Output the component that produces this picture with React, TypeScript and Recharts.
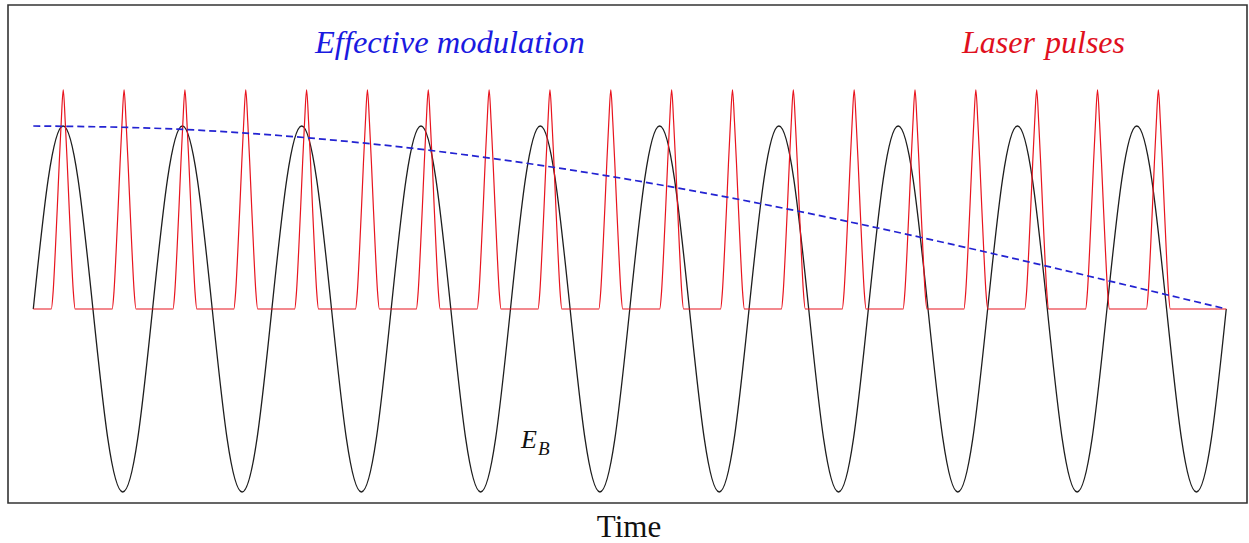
import React from "react";
import { LineChart, Line, XAxis, YAxis, ReferenceArea } from "recharts";

// Time axis in units of the E_B period (0 .. 10)
const X_DOMAIN: [number, number] = [-0.212, 10.174];
const Y_DOMAIN: [number, number] = [-1.06, 1.661];

const ebStep = 0.125;
const ebValues = [
  0, 0.71, 1, 0.71, 0, -0.71, -1, -0.71,
  0, 0.71, 1, 0.71, 0, -0.71, -1, -0.71,
  0, 0.71, 1, 0.71, 0, -0.71, -1, -0.71,
  0, 0.71, 1, 0.71, 0, -0.71, -1, -0.71,
  0, 0.71, 1, 0.71, 0, -0.71, -1, -0.71,
  0, 0.71, 1, 0.71, 0, -0.71, -1, -0.71,
  0, 0.71, 1, 0.71, 0, -0.71, -1, -0.71,
  0, 0.71, 1, 0.71, 0, -0.71, -1, -0.71,
  0, 0.71, 1, 0.71, 0, -0.71, -1, -0.71,
  0, 0.71, 1, 0.71, 0, -0.71, -1, -0.71,
  0,
];

// Laser pulse centres (time units)
const pulseCenters = [
  0.251, 0.761, 1.271, 1.781, 2.291, 2.801, 3.311, 3.821, 4.331, 4.841,
  5.351, 5.861, 6.371, 6.881, 7.391, 7.901, 8.411, 8.921, 9.431,
];
// Shape of one pulse: offsets from centre and heights
const pulseOffsets = [-0.1, -0.084, -0.067, -0.05, -0.034, -0.017, 0, 0.017, 0.034, 0.05, 0.067, 0.084, 0.1];
const pulseHeights = [0, 0.1, 0.31, 0.55, 0.79, 1.02, 1.197, 1.02, 0.79, 0.55, 0.31, 0.1, 0];
const pulseStart = 0;
const pulseEnd = 10;

// Effective modulation envelope
const modTimes = [0, 1, 2, 3, 4, 5, 6, 7, 8, 9, 10];
const modValues = [1, 0.988, 0.951, 0.891, 0.809, 0.707, 0.588, 0.454, 0.309, 0.156, 0];

const ebData = ebValues.map((v, i) => ({ t: i * ebStep, v }));
const pulseData: { t: number; v: number }[] = [{ t: pulseStart, v: 0 }];
pulseCenters.forEach((c) => {
  pulseOffsets.forEach((o, j) => pulseData.push({ t: c + o, v: pulseHeights[j] }));
});
pulseData.push({ t: pulseEnd, v: 0 });
const modData = modTimes.map((t, i) => ({ t, v: modValues[i] }));

const serif = '"Liberation Serif", "Times New Roman", serif';

export default function App() {
  return (
    <div style={{ position: "absolute", left: 0, top: 0, width: 1249, height: 543, background: "#fff" }}>
      <LineChart
        width={1249}
        height={543}
        margin={{ top: 5, right: 2, bottom: 40, left: 8 }}
      >
        <XAxis dataKey="t" type="number" domain={X_DOMAIN} allowDataOverflow hide />
        <YAxis type="number" domain={Y_DOMAIN} allowDataOverflow hide />
        <ReferenceArea
          x1={X_DOMAIN[0]}
          x2={X_DOMAIN[1]}
          y1={Y_DOMAIN[0]}
          y2={Y_DOMAIN[1]}
          fill="none"
          fillOpacity={0}
          stroke="#333"
          strokeWidth={1.6}
        />
        <Line
          data={ebData}
          dataKey="v"
          type="natural"
          stroke="#1e1e1e"
          strokeWidth={1.3}
          dot={false}
          activeDot={false}
          isAnimationActive={false}
        />
        <Line
          data={pulseData}
          dataKey="v"
          type="monotone"
          stroke="#e8141e"
          strokeWidth={1.2}
          dot={false}
          activeDot={false}
          isAnimationActive={false}
        />
        <Line
          data={modData}
          dataKey="v"
          type="natural"
          stroke="#2323d2"
          strokeWidth={1.7}
          strokeDasharray="7 4"
          dot={false}
          activeDot={false}
          isAnimationActive={false}
        />
      </LineChart>
      <svg
        width={1249}
        height={543}
        style={{ position: "absolute", left: 0, top: 0, pointerEvents: "none" }}
      >
        <text x={315} y={53} fontFamily={serif} fontStyle="italic" fontSize={32.5} fill="#1a1ae0">
          Effective modulation
        </text>
        <text x={962} y={53} fontFamily={serif} fontStyle="italic" fontSize={32} fill="#e0101e">
          Laser<tspan x={1045}>pulses</tspan>
        </text>
        <text x={521} y={448} fontFamily={serif} fontStyle="italic" fontSize={26} fill="#111">
          E
        </text>
        <text x={538} y={455} fontFamily={serif} fontStyle="italic" fontSize={19} fill="#111">
          B
        </text>
        <text x={629} y={537} textAnchor="middle" fontFamily={serif} fontSize={31} fill="#111">
          Time
        </text>
      </svg>
    </div>
  );
}
